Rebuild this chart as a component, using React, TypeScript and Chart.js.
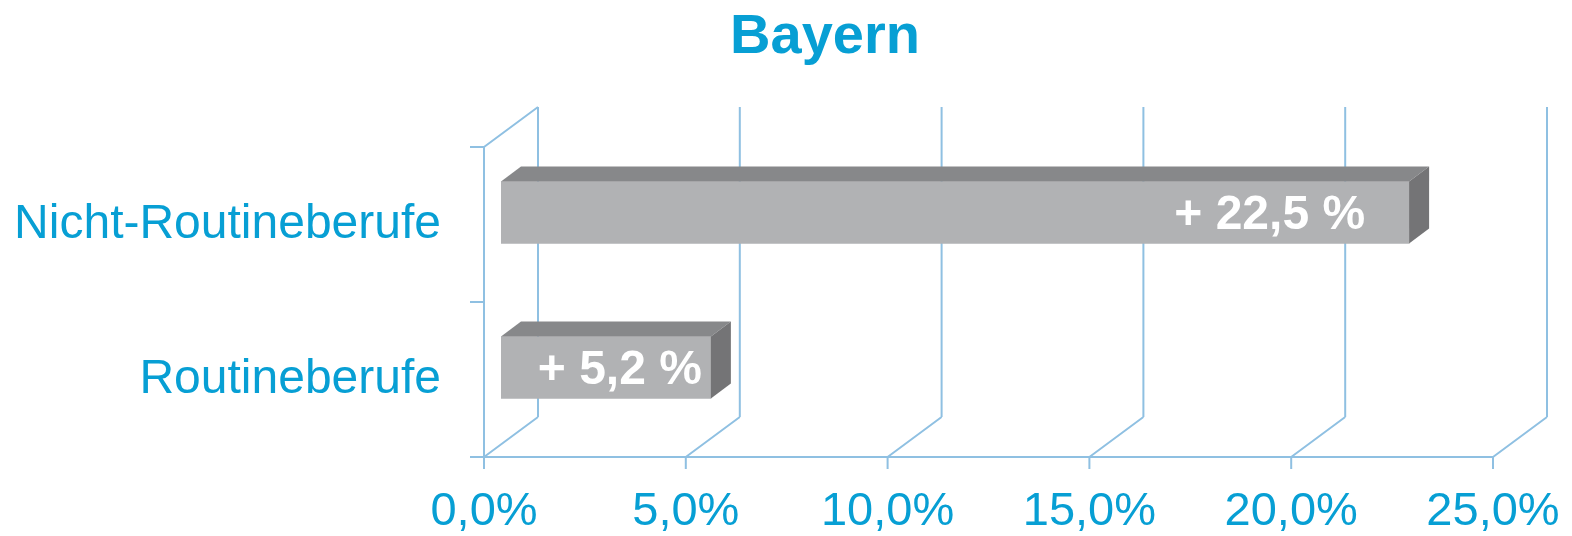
import React, { useEffect, useRef } from "react";
import { Chart, registerables } from "chart.js";

Chart.register(...registerables);

const TITLE = "Bayern";
const categories = ["Nicht-Routineberufe", "Routineberufe"];
const values = [22.5, 5.2];
const valueLabels = ["+ 22,5 %", "+ 5,2 %"];
const xTicks = [0, 5, 10, 15, 20, 25];

const BLUE = "#079fd4";
const GRID = "#8fc0e2";
const FRONT = "#b1b2b4";
const TOP = "#87888a";
const SIDE = "#747476";
const FONT = "'Liberation Sans', Arial, sans-serif";

// styling constants
const GRID_DX = 54;
const GRID_DY = -40;
const BAR_SHIFT_X = 17;
const BAR_SHIFT_Y = -12;
const BAR_DX = 20;
const BAR_DY = -15;
const LABEL_GAP = [44, 9];

const threeD = {
  id: "threeD",
  beforeDatasetsDraw(chart: any) {
    const { ctx, chartArea } = chart;
    const xs = chart.scales.x;
    const { left, right, top, bottom } = chartArea;
    ctx.save();
    ctx.strokeStyle = GRID;
    ctx.lineWidth = 2;
    ctx.beginPath();
    for (const v of xTicks) {
      const px = xs.getPixelForValue(v);
      ctx.moveTo(px + GRID_DX, top + GRID_DY);
      ctx.lineTo(px + GRID_DX, bottom + GRID_DY);
      ctx.moveTo(px, bottom);
      ctx.lineTo(px + GRID_DX, bottom + GRID_DY);
      ctx.moveTo(px, bottom);
      ctx.lineTo(px, bottom + 12);
    }
    ctx.moveTo(left, bottom);
    ctx.lineTo(right, bottom);
    ctx.moveTo(left, top);
    ctx.lineTo(left, bottom);
    ctx.moveTo(left, top);
    ctx.lineTo(left + GRID_DX, top + GRID_DY);
    const ys = [top, (top + bottom) / 2, bottom];
    for (const y of ys) {
      ctx.moveTo(left - 14, y);
      ctx.lineTo(left, y);
    }
    ctx.stroke();
    ctx.restore();

    ctx.save();
    ctx.translate(BAR_SHIFT_X, BAR_SHIFT_Y);
  },
  afterDatasetsDraw(chart: any) {
    const { ctx } = chart;
    const meta = chart.getDatasetMeta(0);
    meta.data.forEach((bar: any) => {
      const p = bar.getProps(["x", "y", "base", "height"], true);
      const x0 = p.base;
      const x1 = p.x;
      const y0 = p.y - p.height / 2;
      const y1 = p.y + p.height / 2;
      ctx.fillStyle = TOP;
      ctx.beginPath();
      ctx.moveTo(x0, y0);
      ctx.lineTo(x0 + BAR_DX, y0 + BAR_DY);
      ctx.lineTo(x1 + BAR_DX, y0 + BAR_DY);
      ctx.lineTo(x1, y0);
      ctx.closePath();
      ctx.fill();
      ctx.fillStyle = SIDE;
      ctx.beginPath();
      ctx.moveTo(x1, y0);
      ctx.lineTo(x1 + BAR_DX, y0 + BAR_DY);
      ctx.lineTo(x1 + BAR_DX, y1 + BAR_DY);
      ctx.lineTo(x1, y1);
      ctx.closePath();
      ctx.fill();
    });
    meta.data.forEach((bar: any, i: number) => {
      const p = bar.getProps(["x", "y"], true);
      ctx.fillStyle = "#ffffff";
      ctx.font = `bold 48px ${FONT}`;
      ctx.textAlign = "right";
      ctx.textBaseline = "alphabetic";
      ctx.fillText(valueLabels[i], p.x - LABEL_GAP[i], p.y + 16);
    });
    ctx.restore();
  },
  afterDraw(chart: any) {
    const { ctx } = chart;
    ctx.save();
    ctx.fillStyle = BLUE;
    ctx.font = `bold 56px ${FONT}`;
    ctx.textAlign = "center";
    ctx.textBaseline = "alphabetic";
    ctx.fillText(TITLE, 825, 53);
    ctx.restore();
  },
};

export default function App() {
  const ref = useRef<HTMLCanvasElement | null>(null);
  useEffect(() => {
    if (!ref.current) return;
    const chart = new Chart(ref.current, {
      type: "bar",
      data: {
        labels: categories,
        datasets: [
          {
            data: values,
            backgroundColor: FRONT,
            borderWidth: 0,
            barThickness: 62,
          },
        ],
      },
      options: {
        indexAxis: "y",
        animation: false,
        responsive: true,
        maintainAspectRatio: false,
        layout: { padding: { top: 147, right: 79, left: 0, bottom: 0 } },
        plugins: {
          legend: { display: false },
          tooltip: { enabled: false },
          title: { display: false },
        },
        scales: {
          x: {
            min: 0,
            max: 25,
            grid: { display: false, drawTicks: false },
            border: { display: false },
            afterFit: (s: any) => {
              s.height = 79;
              s.paddingLeft = 0;
              s.paddingRight = 0;
            },
            afterBuildTicks: (s: any) => {
              s.ticks = xTicks.map((v) => ({ value: v }));
            },
            ticks: {
              color: BLUE,
              font: { family: FONT, size: 47 },
              padding: 27,
              maxRotation: 0,
              autoSkip: false,
              callback: (v: any) => Number(v).toFixed(1).replace(".", ",") + "%",
            },
          },
          y: {
            grid: { display: false, drawTicks: false },
            border: { display: false },
            afterFit: (s: any) => {
              s.width = 484;
              s.paddingTop = 0;
              s.paddingBottom = 0;
            },
            ticks: {
              color: BLUE,
              font: { family: FONT, size: 48 },
              padding: 43,
            },
          },
        },
      },
      plugins: [threeD],
    });
    return () => chart.destroy();
  }, []);
  return (
    <div style={{ position: "absolute", left: 0, top: 0, width: 1572, height: 536 }}>
      <canvas ref={ref} />
    </div>
  );
}
